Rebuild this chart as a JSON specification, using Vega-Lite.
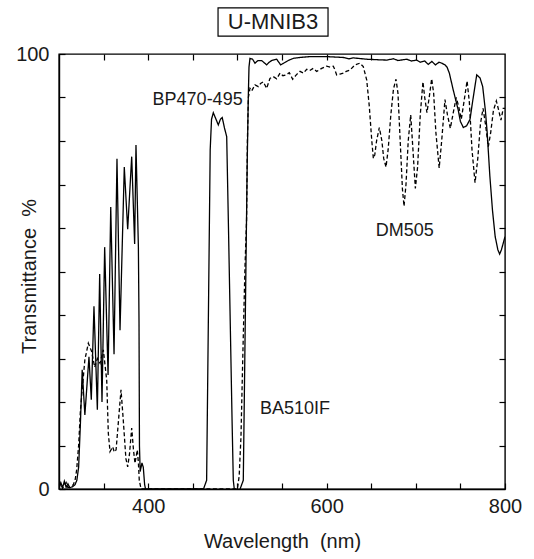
{
  "$schema": "https://vega.github.io/schema/vega-lite/v6.json",
  "width": 446,
  "height": 435,
  "autosize": {"type": "none"},
  "padding": {"left": 59, "top": 54, "right": 29, "bottom": 70},
  "background": "white",
  "config": {
    "view": {"stroke": "black", "strokeWidth": 1.4},
    "font": "Liberation Sans",
    "axis": {"grid": false, "domainColor": "black", "domainWidth": 1.4, "tickColor": "black", "tickWidth": 1.2, "labelColor": "#1a1a1a", "titleColor": "#1a1a1a", "labelFont": "Liberation Sans", "titleFont": "Liberation Sans", "titleFontWeight": "normal"}
  },
  "resolve": {"axis": {"x": "independent", "y": "independent"}},
  "layer": [
    {
      "data": {"values": [
        {"filter": "BP470-495", "nm": 300, "T": 0.5}, {"filter": "BP470-495", "nm": 302, "T": 1.5}, {"filter": "BP470-495", "nm": 304, "T": 0.3}, {"filter": "BP470-495", "nm": 306, "T": 1.8}, {"filter": "BP470-495", "nm": 308, "T": 0.4}, {"filter": "BP470-495", "nm": 310, "T": 1.2}, {"filter": "BP470-495", "nm": 312, "T": 0.3}, {"filter": "BP470-495", "nm": 315, "T": 0.5}, {"filter": "BP470-495", "nm": 318, "T": 1}, {"filter": "BP470-495", "nm": 320, "T": 2}, {"filter": "BP470-495", "nm": 322, "T": 5}, {"filter": "BP470-495", "nm": 324, "T": 15}, {"filter": "BP470-495", "nm": 326, "T": 27.4}, {"filter": "BP470-495", "nm": 329, "T": 17}, {"filter": "BP470-495", "nm": 333.6, "T": 30.4}, {"filter": "BP470-495", "nm": 336.2, "T": 20.5}, {"filter": "BP470-495", "nm": 339.2, "T": 42}, {"filter": "BP470-495", "nm": 343, "T": 18.2}, {"filter": "BP470-495", "nm": 345.6, "T": 49.4}, {"filter": "BP470-495", "nm": 348.2, "T": 20}, {"filter": "BP470-495", "nm": 351.2, "T": 55.6}, {"filter": "BP470-495", "nm": 355, "T": 26.2}, {"filter": "BP470-495", "nm": 358, "T": 64.8}, {"filter": "BP470-495", "nm": 361.7, "T": 31}, {"filter": "BP470-495", "nm": 365, "T": 75.9}, {"filter": "BP470-495", "nm": 368.4, "T": 36.5}, {"filter": "BP470-495", "nm": 373.2, "T": 74}, {"filter": "BP470-495", "nm": 377, "T": 59.7}, {"filter": "BP470-495", "nm": 381.5, "T": 76.4}, {"filter": "BP470-495", "nm": 384.8, "T": 56.3}, {"filter": "BP470-495", "nm": 386.3, "T": 79.1}, {"filter": "BP470-495", "nm": 389, "T": 55.6}, {"filter": "BP470-495", "nm": 389.7, "T": 38.5}, {"filter": "BP470-495", "nm": 390.2, "T": 10}, {"filter": "BP470-495", "nm": 391, "T": 4}, {"filter": "BP470-495", "nm": 393, "T": 6}, {"filter": "BP470-495", "nm": 394.5, "T": 5}, {"filter": "BP470-495", "nm": 396, "T": 1}, {"filter": "BP470-495", "nm": 397, "T": 0}, {"filter": "BP470-495", "nm": 462, "T": 0}, {"filter": "BP470-495", "nm": 465.5, "T": 2}, {"filter": "BP470-495", "nm": 467.5, "T": 40}, {"filter": "BP470-495", "nm": 469.5, "T": 78}, {"filter": "BP470-495", "nm": 471, "T": 85}, {"filter": "BP470-495", "nm": 473, "T": 86.5}, {"filter": "BP470-495", "nm": 476, "T": 85}, {"filter": "BP470-495", "nm": 478.6, "T": 83.7}, {"filter": "BP470-495", "nm": 481, "T": 85}, {"filter": "BP470-495", "nm": 483, "T": 85.4}, {"filter": "BP470-495", "nm": 485.5, "T": 83}, {"filter": "BP470-495", "nm": 488, "T": 81}, {"filter": "BP470-495", "nm": 490, "T": 60}, {"filter": "BP470-495", "nm": 492, "T": 38}, {"filter": "BP470-495", "nm": 494, "T": 16}, {"filter": "BP470-495", "nm": 495.4, "T": 2}, {"filter": "BP470-495", "nm": 496.5, "T": 0},
        {"filter": "BA510IF", "nm": 503, "T": 0}, {"filter": "BA510IF", "nm": 506.6, "T": 2}, {"filter": "BA510IF", "nm": 508, "T": 25}, {"filter": "BA510IF", "nm": 509.5, "T": 50}, {"filter": "BA510IF", "nm": 511, "T": 75}, {"filter": "BA510IF", "nm": 512.2, "T": 90}, {"filter": "BA510IF", "nm": 513, "T": 97}, {"filter": "BA510IF", "nm": 514.1, "T": 99}, {"filter": "BA510IF", "nm": 517, "T": 98.8}, {"filter": "BA510IF", "nm": 519.7, "T": 97.9}, {"filter": "BA510IF", "nm": 523, "T": 98.5}, {"filter": "BA510IF", "nm": 527.2, "T": 98.5}, {"filter": "BA510IF", "nm": 530, "T": 98}, {"filter": "BA510IF", "nm": 532.8, "T": 97.5}, {"filter": "BA510IF", "nm": 535, "T": 98}, {"filter": "BA510IF", "nm": 538.4, "T": 98.5}, {"filter": "BA510IF", "nm": 544, "T": 98.8}, {"filter": "BA510IF", "nm": 548.5, "T": 97.5}, {"filter": "BA510IF", "nm": 551, "T": 97.8}, {"filter": "BA510IF", "nm": 554.5, "T": 98.2}, {"filter": "BA510IF", "nm": 558, "T": 98.6}, {"filter": "BA510IF", "nm": 562.7, "T": 99}, {"filter": "BA510IF", "nm": 570, "T": 99.2}, {"filter": "BA510IF", "nm": 581.4, "T": 99.4}, {"filter": "BA510IF", "nm": 590, "T": 99.4}, {"filter": "BA510IF", "nm": 600, "T": 99.4}, {"filter": "BA510IF", "nm": 610, "T": 99.3}, {"filter": "BA510IF", "nm": 618.7, "T": 99.2}, {"filter": "BA510IF", "nm": 625, "T": 98.9}, {"filter": "BA510IF", "nm": 630, "T": 99.1}, {"filter": "BA510IF", "nm": 645, "T": 98.8}, {"filter": "BA510IF", "nm": 655, "T": 98.7}, {"filter": "BA510IF", "nm": 667.4, "T": 98.6}, {"filter": "BA510IF", "nm": 675, "T": 98.9}, {"filter": "BA510IF", "nm": 680, "T": 98.5}, {"filter": "BA510IF", "nm": 689.8, "T": 98.8}, {"filter": "BA510IF", "nm": 695, "T": 98.4}, {"filter": "BA510IF", "nm": 701, "T": 98.6}, {"filter": "BA510IF", "nm": 705, "T": 98.1}, {"filter": "BA510IF", "nm": 710, "T": 98.4}, {"filter": "BA510IF", "nm": 714, "T": 97.6}, {"filter": "BA510IF", "nm": 718, "T": 98.3}, {"filter": "BA510IF", "nm": 722, "T": 97.5}, {"filter": "BA510IF", "nm": 726, "T": 98.1}, {"filter": "BA510IF", "nm": 729, "T": 97.9}, {"filter": "BA510IF", "nm": 732.7, "T": 97.5}, {"filter": "BA510IF", "nm": 735, "T": 97}, {"filter": "BA510IF", "nm": 737.6, "T": 95.6}, {"filter": "BA510IF", "nm": 742, "T": 91.7}, {"filter": "BA510IF", "nm": 747.6, "T": 87.1}, {"filter": "BA510IF", "nm": 750, "T": 84.5}, {"filter": "BA510IF", "nm": 753.3, "T": 83.1}, {"filter": "BA510IF", "nm": 757, "T": 83.5}, {"filter": "BA510IF", "nm": 760.8, "T": 85}, {"filter": "BA510IF", "nm": 764, "T": 89.5}, {"filter": "BA510IF", "nm": 768.3, "T": 95.2}, {"filter": "BA510IF", "nm": 772, "T": 94.5}, {"filter": "BA510IF", "nm": 775, "T": 92.5}, {"filter": "BA510IF", "nm": 778, "T": 87}, {"filter": "BA510IF", "nm": 780, "T": 82}, {"filter": "BA510IF", "nm": 783, "T": 72}, {"filter": "BA510IF", "nm": 786, "T": 64}, {"filter": "BA510IF", "nm": 789, "T": 58}, {"filter": "BA510IF", "nm": 792, "T": 55}, {"filter": "BA510IF", "nm": 794, "T": 54}, {"filter": "BA510IF", "nm": 796, "T": 55}, {"filter": "BA510IF", "nm": 798, "T": 56.5}, {"filter": "BA510IF", "nm": 800, "T": 58},
        {"filter": "DM505", "nm": 300, "T": 0.3}, {"filter": "DM505", "nm": 302, "T": 1.2}, {"filter": "DM505", "nm": 304, "T": 0.2}, {"filter": "DM505", "nm": 306, "T": 0.8}, {"filter": "DM505", "nm": 308, "T": 1.5}, {"filter": "DM505", "nm": 310, "T": 0.3}, {"filter": "DM505", "nm": 313, "T": 0.5}, {"filter": "DM505", "nm": 316, "T": 1}, {"filter": "DM505", "nm": 318, "T": 2}, {"filter": "DM505", "nm": 319.8, "T": 4.4}, {"filter": "DM505", "nm": 322, "T": 10}, {"filter": "DM505", "nm": 324, "T": 18}, {"filter": "DM505", "nm": 326.5, "T": 24}, {"filter": "DM505", "nm": 329, "T": 29.7}, {"filter": "DM505", "nm": 332.9, "T": 33.5}, {"filter": "DM505", "nm": 336.6, "T": 31.6}, {"filter": "DM505", "nm": 340, "T": 28}, {"filter": "DM505", "nm": 343, "T": 30}, {"filter": "DM505", "nm": 346, "T": 28.9}, {"filter": "DM505", "nm": 349.7, "T": 32}, {"filter": "DM505", "nm": 353.5, "T": 25}, {"filter": "DM505", "nm": 355.3, "T": 12.8}, {"filter": "DM505", "nm": 357.2, "T": 8.6}, {"filter": "DM505", "nm": 360.2, "T": 9.7}, {"filter": "DM505", "nm": 362, "T": 8.5}, {"filter": "DM505", "nm": 364, "T": 9}, {"filter": "DM505", "nm": 366, "T": 14}, {"filter": "DM505", "nm": 369.5, "T": 22.8}, {"filter": "DM505", "nm": 372, "T": 16}, {"filter": "DM505", "nm": 375, "T": 7}, {"filter": "DM505", "nm": 377, "T": 5.1}, {"filter": "DM505", "nm": 379, "T": 8}, {"filter": "DM505", "nm": 381.5, "T": 14}, {"filter": "DM505", "nm": 383.5, "T": 9}, {"filter": "DM505", "nm": 385.2, "T": 5.9}, {"filter": "DM505", "nm": 387.8, "T": 9}, {"filter": "DM505", "nm": 389, "T": 6}, {"filter": "DM505", "nm": 390, "T": 2}, {"filter": "DM505", "nm": 392, "T": 0}, {"filter": "DM505", "nm": 500, "T": 0}, {"filter": "DM505", "nm": 502, "T": 3}, {"filter": "DM505", "nm": 504, "T": 12}, {"filter": "DM505", "nm": 506, "T": 30}, {"filter": "DM505", "nm": 508.5, "T": 51}, {"filter": "DM505", "nm": 510.3, "T": 62}, {"filter": "DM505", "nm": 511.2, "T": 80}, {"filter": "DM505", "nm": 512.3, "T": 90}, {"filter": "DM505", "nm": 514.1, "T": 92.1}, {"filter": "DM505", "nm": 516, "T": 91.5}, {"filter": "DM505", "nm": 519.7, "T": 92.9}, {"filter": "DM505", "nm": 523.4, "T": 92.5}, {"filter": "DM505", "nm": 526, "T": 93.2}, {"filter": "DM505", "nm": 529, "T": 93.6}, {"filter": "DM505", "nm": 531, "T": 92.8}, {"filter": "DM505", "nm": 532.8, "T": 92.1}, {"filter": "DM505", "nm": 536.5, "T": 94.4}, {"filter": "DM505", "nm": 540.2, "T": 94.8}, {"filter": "DM505", "nm": 544, "T": 94.3}, {"filter": "DM505", "nm": 547.8, "T": 95.6}, {"filter": "DM505", "nm": 551, "T": 95}, {"filter": "DM505", "nm": 554.5, "T": 95.2}, {"filter": "DM505", "nm": 558.2, "T": 95.7}, {"filter": "DM505", "nm": 562, "T": 94.2}, {"filter": "DM505", "nm": 566, "T": 95.2}, {"filter": "DM505", "nm": 570.2, "T": 96}, {"filter": "DM505", "nm": 574, "T": 95.6}, {"filter": "DM505", "nm": 577.7, "T": 96.5}, {"filter": "DM505", "nm": 581, "T": 96.2}, {"filter": "DM505", "nm": 585.1, "T": 96.7}, {"filter": "DM505", "nm": 588.9, "T": 96}, {"filter": "DM505", "nm": 594.5, "T": 96.7}, {"filter": "DM505", "nm": 600, "T": 97.2}, {"filter": "DM505", "nm": 604, "T": 97}, {"filter": "DM505", "nm": 607.5, "T": 97.2}, {"filter": "DM505", "nm": 609, "T": 96.5}, {"filter": "DM505", "nm": 611.3, "T": 95.2}, {"filter": "DM505", "nm": 615, "T": 95.4}, {"filter": "DM505", "nm": 618.7, "T": 95.6}, {"filter": "DM505", "nm": 622, "T": 96}, {"filter": "DM505", "nm": 626.2, "T": 96.3}, {"filter": "DM505", "nm": 631.8, "T": 97.5}, {"filter": "DM505", "nm": 637.4, "T": 97.9}, {"filter": "DM505", "nm": 641.1, "T": 97.1}, {"filter": "DM505", "nm": 645, "T": 94}, {"filter": "DM505", "nm": 647.9, "T": 87.9}, {"filter": "DM505", "nm": 650.6, "T": 80.2}, {"filter": "DM505", "nm": 652.4, "T": 76}, {"filter": "DM505", "nm": 654, "T": 76.8}, {"filter": "DM505", "nm": 656, "T": 80}, {"filter": "DM505", "nm": 659.1, "T": 83.1}, {"filter": "DM505", "nm": 662, "T": 80}, {"filter": "DM505", "nm": 664, "T": 76}, {"filter": "DM505", "nm": 666.6, "T": 74}, {"filter": "DM505", "nm": 669, "T": 78}, {"filter": "DM505", "nm": 672, "T": 86}, {"filter": "DM505", "nm": 675, "T": 92}, {"filter": "DM505", "nm": 677.8, "T": 94.2}, {"filter": "DM505", "nm": 680, "T": 91}, {"filter": "DM505", "nm": 682.5, "T": 80}, {"filter": "DM505", "nm": 685, "T": 69}, {"filter": "DM505", "nm": 686.8, "T": 65}, {"filter": "DM505", "nm": 689, "T": 70}, {"filter": "DM505", "nm": 691.5, "T": 80}, {"filter": "DM505", "nm": 694.3, "T": 86}, {"filter": "DM505", "nm": 696.5, "T": 79}, {"filter": "DM505", "nm": 699.5, "T": 69.1}, {"filter": "DM505", "nm": 702, "T": 74}, {"filter": "DM505", "nm": 705, "T": 86}, {"filter": "DM505", "nm": 708, "T": 93.6}, {"filter": "DM505", "nm": 710, "T": 90}, {"filter": "DM505", "nm": 712.5, "T": 86.5}, {"filter": "DM505", "nm": 715, "T": 90}, {"filter": "DM505", "nm": 717.8, "T": 94.3}, {"filter": "DM505", "nm": 720, "T": 91}, {"filter": "DM505", "nm": 722.5, "T": 82}, {"filter": "DM505", "nm": 726.2, "T": 73.8}, {"filter": "DM505", "nm": 729, "T": 80}, {"filter": "DM505", "nm": 732.7, "T": 89.5}, {"filter": "DM505", "nm": 735.5, "T": 86}, {"filter": "DM505", "nm": 738.7, "T": 82.9}, {"filter": "DM505", "nm": 742, "T": 86.5}, {"filter": "DM505", "nm": 745.3, "T": 90}, {"filter": "DM505", "nm": 748, "T": 88}, {"filter": "DM505", "nm": 751, "T": 85}, {"filter": "DM505", "nm": 754, "T": 89}, {"filter": "DM505", "nm": 757.5, "T": 93.8}, {"filter": "DM505", "nm": 760, "T": 89}, {"filter": "DM505", "nm": 763, "T": 78}, {"filter": "DM505", "nm": 766.4, "T": 70.4}, {"filter": "DM505", "nm": 769.5, "T": 76}, {"filter": "DM505", "nm": 772.5, "T": 84}, {"filter": "DM505", "nm": 775.4, "T": 87.5}, {"filter": "DM505", "nm": 778, "T": 84}, {"filter": "DM505", "nm": 781.3, "T": 78.7}, {"filter": "DM505", "nm": 784, "T": 82}, {"filter": "DM505", "nm": 787, "T": 87}, {"filter": "DM505", "nm": 790.3, "T": 89.2}, {"filter": "DM505", "nm": 793, "T": 87}, {"filter": "DM505", "nm": 795.5, "T": 84.8}, {"filter": "DM505", "nm": 798, "T": 87.5}, {"filter": "DM505", "nm": 800, "T": 87.5}
      ]},
      "mark": {"type": "line", "color": "black", "strokeWidth": 1.3, "clip": true},
      "encoding": {
        "x": {"field": "nm", "type": "quantitative", "scale": {"domain": [300, 800], "nice": false, "zero": false},
          "axis": {"orient": "bottom", "values": [300, 350, 400, 450, 500, 550, 600, 650, 700, 750, 800], "labelExpr": "(datum.value == 400 || datum.value == 600 || datum.value == 800) ? datum.label : ''", "tickSize": -6, "labelPadding": 13, "labelFontSize": 20, "labelFlush": false, "title": "Wavelength\u00a0\u00a0(nm)", "titleFontSize": 20, "titlePadding": 15}},
        "y": {"field": "T", "type": "quantitative", "scale": {"domain": [0, 100], "nice": false, "zero": false},
          "axis": {"orient": "left", "values": [0, 10, 20, 30, 40, 50, 60, 70, 80, 90, 100], "labelExpr": "(datum.value == 0 || datum.value == 100) ? datum.label : ''", "tickSize": -6, "labelPadding": 16, "labelFontSize": 20, "title": "Transmittance\u00a0\u00a0%", "titleFontSize": 20, "titleX": -30, "titleY": 222, "titleAlign": "center", "titleBaseline": "middle", "titleAngle": 270}},
        "detail": {"field": "filter"},
        "strokeDash": {"field": "filter", "type": "nominal", "scale": {"domain": ["BP470-495", "DM505", "BA510IF"], "range": [[1, 0], [4, 2.5], [1, 0]]}, "legend": null}
      }
    },
    {
      "data": {"values": [{}]},
      "mark": {"type": "text", "text": "BP470-495", "align": "right", "baseline": "middle", "fontSize": 18, "color": "#1a1a1a"},
      "encoding": {
        "x": {"datum": 505.9, "type": "quantitative", "scale": {"domain": [300, 800], "nice": false, "zero": false},
          "axis": {"orient": "top", "values": [350, 400, 450, 500, 550, 600, 650, 700, 750], "labels": false, "domain": false, "tickSize": -6, "title": null}},
        "y": {"datum": 89.4, "type": "quantitative", "scale": {"domain": [0, 100], "nice": false, "zero": false},
          "axis": {"orient": "right", "values": [10, 20, 30, 40, 50, 60, 70, 80, 90], "labels": false, "domain": false, "tickSize": -6, "title": null}}
      }
    },
    {
      "data": {"values": [{}]},
      "mark": {"type": "text", "text": "DM505", "align": "left", "baseline": "middle", "fontSize": 18, "color": "#1a1a1a"},
      "encoding": {
        "x": {"datum": 655, "type": "quantitative", "scale": {"domain": [300, 800], "nice": false, "zero": false}, "axis": null},
        "y": {"datum": 59.4, "type": "quantitative", "scale": {"domain": [0, 100], "nice": false, "zero": false}, "axis": null}
      }
    },
    {
      "data": {"values": [{}]},
      "mark": {"type": "text", "text": "BA510IF", "align": "left", "baseline": "middle", "fontSize": 18, "color": "#1a1a1a"},
      "encoding": {
        "x": {"datum": 525.3, "type": "quantitative", "scale": {"domain": [300, 800], "nice": false, "zero": false}, "axis": null},
        "y": {"datum": 18.4, "type": "quantitative", "scale": {"domain": [0, 100], "nice": false, "zero": false}, "axis": null}
      }
    },
    {
      "data": {"values": [{}]},
      "mark": {"type": "rect", "fill": "white", "stroke": "black", "strokeWidth": 1.2},
      "encoding": {
        "x": {"datum": 478.3, "type": "quantitative", "scale": {"domain": [300, 800], "nice": false, "zero": false}, "axis": null},
        "x2": {"datum": 601.6},
        "y": {"datum": 104.1, "type": "quantitative", "scale": {"domain": [0, 100], "nice": false, "zero": false}, "axis": null},
        "y2": {"datum": 110.6}
      }
    },
    {
      "data": {"values": [{}]},
      "mark": {"type": "text", "text": "U-MNIB3", "align": "center", "baseline": "middle", "fontSize": 22, "color": "#1a1a1a"},
      "encoding": {
        "x": {"datum": 539.9, "type": "quantitative", "scale": {"domain": [300, 800], "nice": false, "zero": false}, "axis": null},
        "y": {"datum": 107.4, "type": "quantitative", "scale": {"domain": [0, 100], "nice": false, "zero": false}, "axis": null}
      }
    }
  ]
}
